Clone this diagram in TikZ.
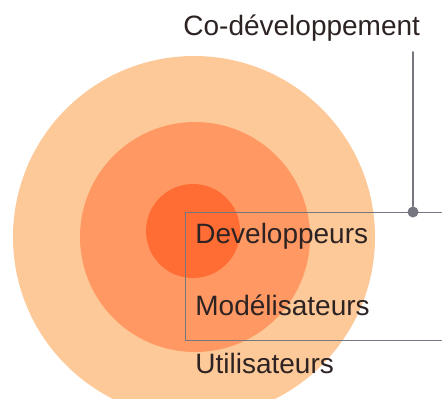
\documentclass[tikz,border=0pt]{standalone}
\usepackage{fontspec}
\setmainfont{Liberation Sans}
\usetikzlibrary{positioning}
\definecolor{peche}{RGB}{253,201,152}
\definecolor{saumon}{RGB}{255,152,98}
\definecolor{corail}{RGB}{255,108,52}
\definecolor{trait}{RGB}{118,118,128}
\definecolor{encre}{RGB}{45,35,35}
\tikzset{
	etiq/.style={text=encre,inner sep=0pt,anchor=base west},
	cadre/.style={draw=trait,line width=0.5pt,inner sep=0pt,anchor=north west,minimum width=133pt,minimum height=64pt},
	pastille/.style={circle,fill=trait,inner sep=0pt,minimum size=5.5pt},
	lien/.style={draw=trait,line width=1pt}
}
\begin{document}
\begin{tikzpicture}[x=0.5pt,y=-0.5pt,line join=round,line cap=round,font=\fontsize{14}{17}\selectfont]
	\useasboundingbox (0,0) rectangle (442,398);
	%Les trois cercles
	\fill[peche] (194,237) circle (181);
	\fill[saumon] (195,237) circle (115);
	\fill[corail] (193,231) circle (47);
	%Le cadre et les etiquettes
	\node[cadre] (boite) at (185,212) {};
	\node[etiq] (dev) at (195,243) {Developpeurs};
	\node[etiq] (model) at (195,315) {Modélisateurs};
	\node[etiq] (util) at (195,373) {Utilisateurs};
	\node[etiq] (codev) at (183,35) {Co-développement};
	%Le lien vers le titre
	\coordinate (haut) at (413,52);
	\node[pastille] (pt) at (haut |- boite.north) {};
	\draw[lien] (haut) -- (pt);
\end{tikzpicture}
\end{document}
